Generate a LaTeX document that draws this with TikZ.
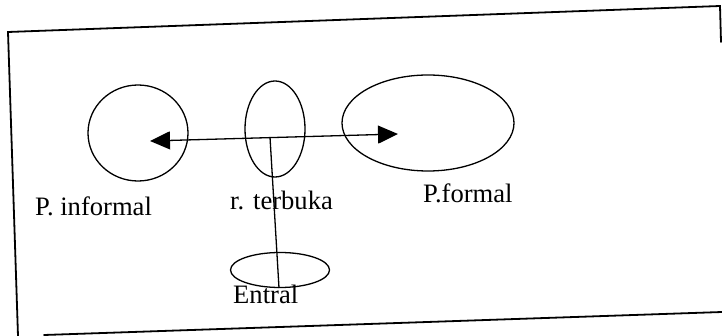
\documentclass[tikz,border=0pt]{standalone}
\usepackage{fontspec}
\setmainfont{Liberation Serif}
\usetikzlibrary{shapes.geometric,arrows.meta,calc}
\begin{document}
\begin{tikzpicture}[x=1pt,y=-1pt,
  framel/.style={line width=1.8pt,line cap=round},
  ring/.style={draw,ellipse,line width=1.3pt,inner sep=0pt},
  lbl/.style={anchor=base west,inner sep=0pt,font=\fontsize{26.6}{30}\selectfont},
  conn/.style={line width=1.3pt}]
\useasboundingbox (0,0) rectangle (722,336);
% frame
\coordinate (f1) at (8,32);
\coordinate (f2) at (720,6);
\coordinate (f3) at (721,42);
\coordinate (f4) at (18,336);
\coordinate (f5) at (44,335);
\coordinate (f6) at (722,312);
\draw[framel] (f4) -- (f1) -- (f2) -- (f3);
\draw[framel] (f5) -- (f6);
% ellipses
\node[ring,minimum width=100pt,minimum height=96pt] (inf) at (138,133) {};
\node[ring,minimum width=60pt,minimum height=96pt] (terb) at (275,129) {};
\node[ring,minimum width=172pt,minimum height=96pt] (form) at (428,123) {};
\node[ring,minimum width=99pt,minimum height=35pt] (ent) at (280,270) {};
% connectors
\coordinate (lt) at (150,141);
\coordinate (rt) at (398,134);
\coordinate (jn) at ($(lt)!0.484!(rt)$);
\coordinate (eb) at (279,288);
\draw[conn,{Triangle[length=20pt,width=18pt]}-{Triangle[length=20pt,width=18pt]}] (lt) -- (rt);
\draw[conn] (jn) -- (eb);
% labels
\node[lbl] (linf) at (35,216) {P. informal};
\node[lbl] (lterb) at (230,210) {r. terbuka};
\node[lbl] (lform) at (423,203) {P.formal};
\node[lbl] (lent) at (233,303) {Entral};
\end{tikzpicture}
\end{document}
